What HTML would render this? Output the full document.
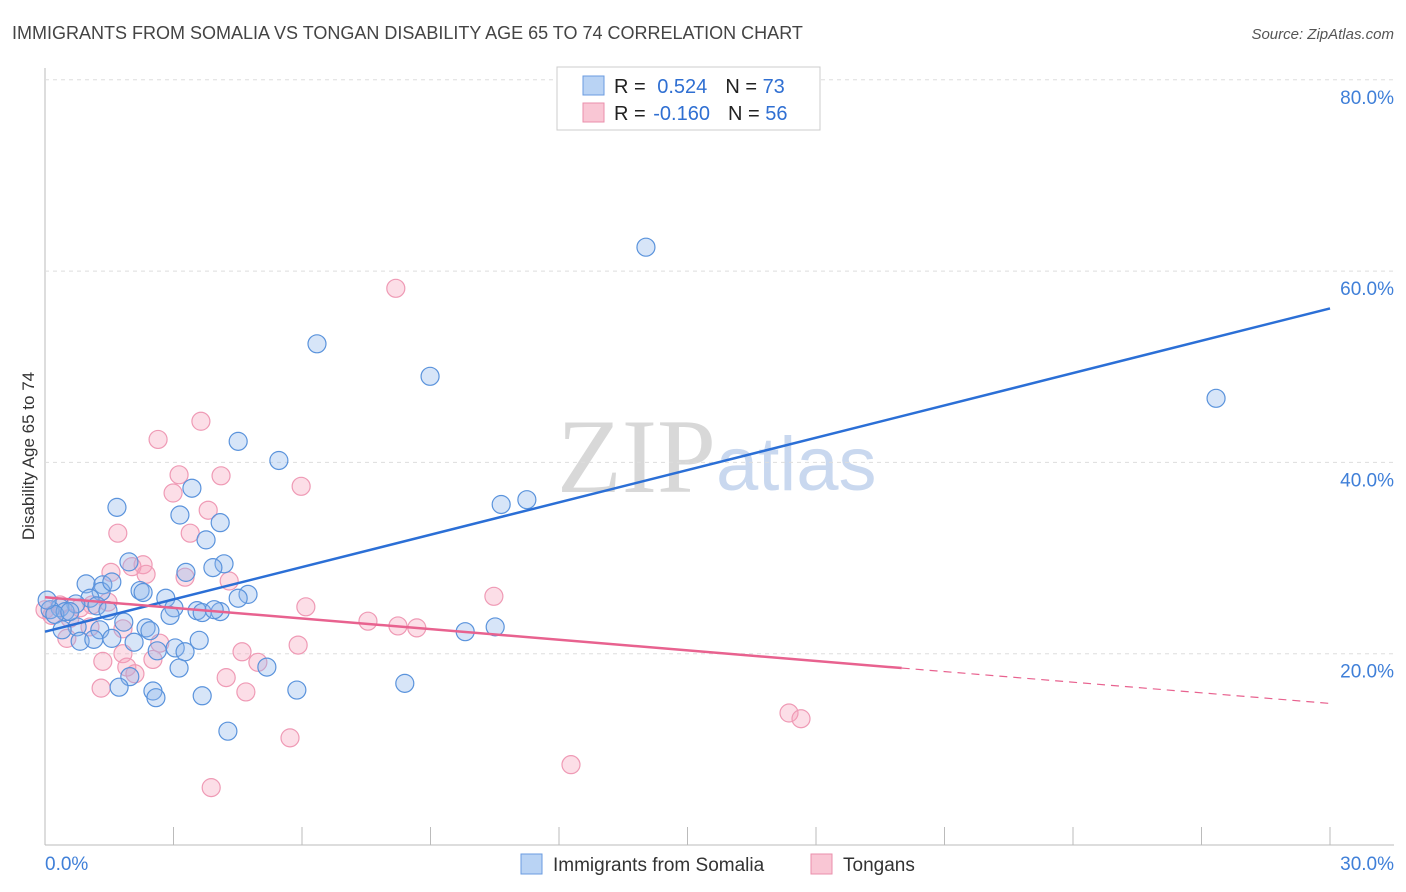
<!DOCTYPE html>
<html><head><meta charset="utf-8"><style>
body{margin:0;background:#fff;font-family:"Liberation Sans",sans-serif}
svg{display:block}
</style></head><body>
<svg id="c" width="1406" height="892" xmlns="http://www.w3.org/2000/svg">
<text x="12" y="39" font-size="18" fill="#444">IMMIGRANTS FROM SOMALIA VS TONGAN DISABILITY AGE 65 TO 74 CORRELATION CHART</text>
<text x="1394" y="39" font-size="15" fill="#555" text-anchor="end" font-style="italic">Source: ZipAtlas.com</text>
<text x="34" y="456" font-size="17" fill="#333" text-anchor="middle" transform="rotate(-90 34 456)">Disability Age 65 to 74</text>
<text x="716" y="492" font-size="106" fill="#d8d8d8" text-anchor="end" font-family="Liberation Serif">ZIP</text>
<text x="716" y="490" font-size="76" fill="#c9d8ef">atlas</text>
<g id="grid"></g><g id="pts"></g><g id="trend"></g>
<rect x="557" y="67" width="263" height="63" fill="#fff" stroke="#ccc"/>
<rect x="583" y="76" width="21" height="19" fill="#b9d3f4" stroke="#6a9be0"/>
<rect x="583" y="103" width="21" height="19" fill="#f9c6d4" stroke="#ea8fab"/>
<text x="614" y="93" font-size="20" fill="#222">R = <tspan fill="#2f6fd2" dx="6">0.524</tspan><tspan dx="18">N = </tspan><tspan fill="#2f6fd2">73</tspan></text>
<text x="614" y="120" font-size="20" fill="#222">R = <tspan fill="#2f6fd2" dx="2">-0.160</tspan><tspan dx="18">N = </tspan><tspan fill="#2f6fd2">56</tspan></text>
<rect x="521" y="854" width="21" height="20" fill="#b9d3f4" stroke="#6a9be0"/>
<text x="553" y="871" font-size="19" fill="#333">Immigrants from Somalia</text>
<rect x="811" y="854" width="21" height="20" fill="#f9c6d4" stroke="#ea8fab"/>
<text x="843" y="871" font-size="19" fill="#333">Tongans</text>
</svg>
<script>
const yTicks=[20,40,60,80];
const xTickLabels=["0.0%","30.0%"];
const blueX=[14.03,6.35,8.99,27.34,4.51,5.46,10.65,11.25,1.68,3.15,3.43,4.09,3.76,1.96,4.18,3.92,3.29,0.96,1.35,1.31,2.22,2.29,2.82,4.74,4.51,1.05,0.72,1.21,0.35,0.12,0.47,0.23,1.47,3.01,3.55,3.67,4.09,3.95,2.92,1.84,2.36,2.45,0.75,0.4,1.28,9.81,10.51,0.82,1.14,1.56,2.08,3.6,3.04,2.62,3.27,3.13,5.18,1.98,1.73,2.52,2.59,3.67,5.88,8.4,4.27,0.05,0.58,1.56];
const blueY=[62.5,52.4,49.0,46.7,42.2,40.2,35.6,36.1,35.3,34.5,37.3,33.7,31.9,29.6,29.4,29.0,28.5,27.3,27.2,26.5,26.6,26.4,25.8,26.2,25.8,25.8,25.2,25.0,24.8,24.6,24.4,24.1,24.5,24.8,24.5,24.3,24.4,24.6,24.0,23.3,22.7,22.4,22.8,22.5,22.5,22.3,22.8,21.3,21.5,21.6,21.2,21.4,20.6,20.3,20.2,18.5,18.6,17.6,16.5,16.1,15.4,15.6,16.2,16.9,11.9,25.6,24.4,27.5];
const pinkX=[8.19,3.64,2.64,3.13,4.11,5.98,2.99,3.81,1.7,3.39,2.29,2.03,1.54,2.36,3.27,4.3,10.48,6.09,1.47,1.1,0.35,0,0.16,0.58,7.54,8.24,8.68,1.82,1.05,0.51,2.68,5.91,4.6,1.82,2.52,4.97,1.35,1.91,2.1,4.23,1.31,4.69,17.37,17.65,5.72,12.28,3.88,0.82];
const pinkY=[58.2,44.3,42.4,38.7,38.6,37.5,36.8,35.0,32.6,32.6,29.3,29.1,28.5,28.3,28.0,27.6,26.0,24.9,25.4,25.1,25.1,24.6,24.0,23.7,23.4,22.9,22.7,22.6,22.8,21.6,21.1,20.9,20.2,20.0,19.4,19.1,19.2,18.6,17.9,17.5,16.4,16.0,13.8,13.2,11.2,8.4,6.0,24.8];
const blueTrend=[22.3,56.1];
const pinkTrend=[25.9,14.8];
const pinkSolidEnd=20.0;
const NS="http://www.w3.org/2000/svg";
const sx=v=>45+v/30*1285, sy=v=>845-v/20*191.3;
function mk(t,a,p){const e=document.createElementNS(NS,t);for(const k in a)e.setAttribute(k,a[k]);p.appendChild(e);return e;}
const g=document.getElementById('grid');
let ax=mk('line',{x1:45,y1:68,x2:45,y2:845,stroke:'#bbb'},g);


let bx=mk('line',{x1:45,y1:845,x2:1394,y2:845,stroke:'#bbb'},g);


yTicks.forEach(t=>{
 const gl=mk('line',{x1:45,x2:1394,y1:sy(t),y2:sy(t),stroke:'#ddd','stroke-dasharray':'4,4'},g);
 
 
 const tx=mk('text',{x:1394,y:sy(t)+24,'font-size':19,fill:'#3f7fd8','text-anchor':'end'},g);
 tx.textContent=t.toFixed(1)+'%';
 
 
});
for(let i=0;i<=10;i++){const x=sx(i*3);
 const tk=mk('line',{x1:x,x2:x,y1:827,y2:845,stroke:'#bbb'},g);
 
 }
[[0,45,'start'],[1,1394,'end']].forEach(([i,x,a])=>{
 const tx=mk('text',{x:x,y:870,'font-size':19,fill:'#3f7fd8','text-anchor':a},g);
 tx.textContent=xTickLabels[i];
 
 });
const P=document.getElementById('pts');
pinkX.forEach((x,i)=>{const c=mk('circle',{cx:sx(x),cy:sy(pinkY[i]),r:9,fill:'rgba(245,160,185,0.35)',stroke:'#ef9ab5','stroke-width':1.2},P);
 
 });
blueX.forEach((x,i)=>{const c=mk('circle',{cx:sx(x),cy:sy(blueY[i]),r:9,fill:'rgba(140,180,235,0.35)',stroke:'#5a93dc','stroke-width':1.2},P);
 
 });
const T=document.getElementById('trend');
const pv=x=>pinkTrend[0]+(pinkTrend[1]-pinkTrend[0])*x/30;
let l1=mk('line',{x1:sx(0),y1:sy(blueTrend[0]),x2:sx(30),y2:sy(blueTrend[1]),stroke:'#2b6fd6','stroke-width':2.5},T);


let l2=mk('line',{x1:sx(0),y1:sy(pv(0)),x2:sx(pinkSolidEnd),y2:sy(pv(pinkSolidEnd)),stroke:'#e8628f','stroke-width':2.5},T);


let l3=mk('line',{x1:sx(pinkSolidEnd),y1:sy(pv(pinkSolidEnd)),x2:sx(30),y2:sy(pv(30)),stroke:'#e8628f','stroke-width':1.2,'stroke-dasharray':'8,6'},T);


</script>
</body></html>
